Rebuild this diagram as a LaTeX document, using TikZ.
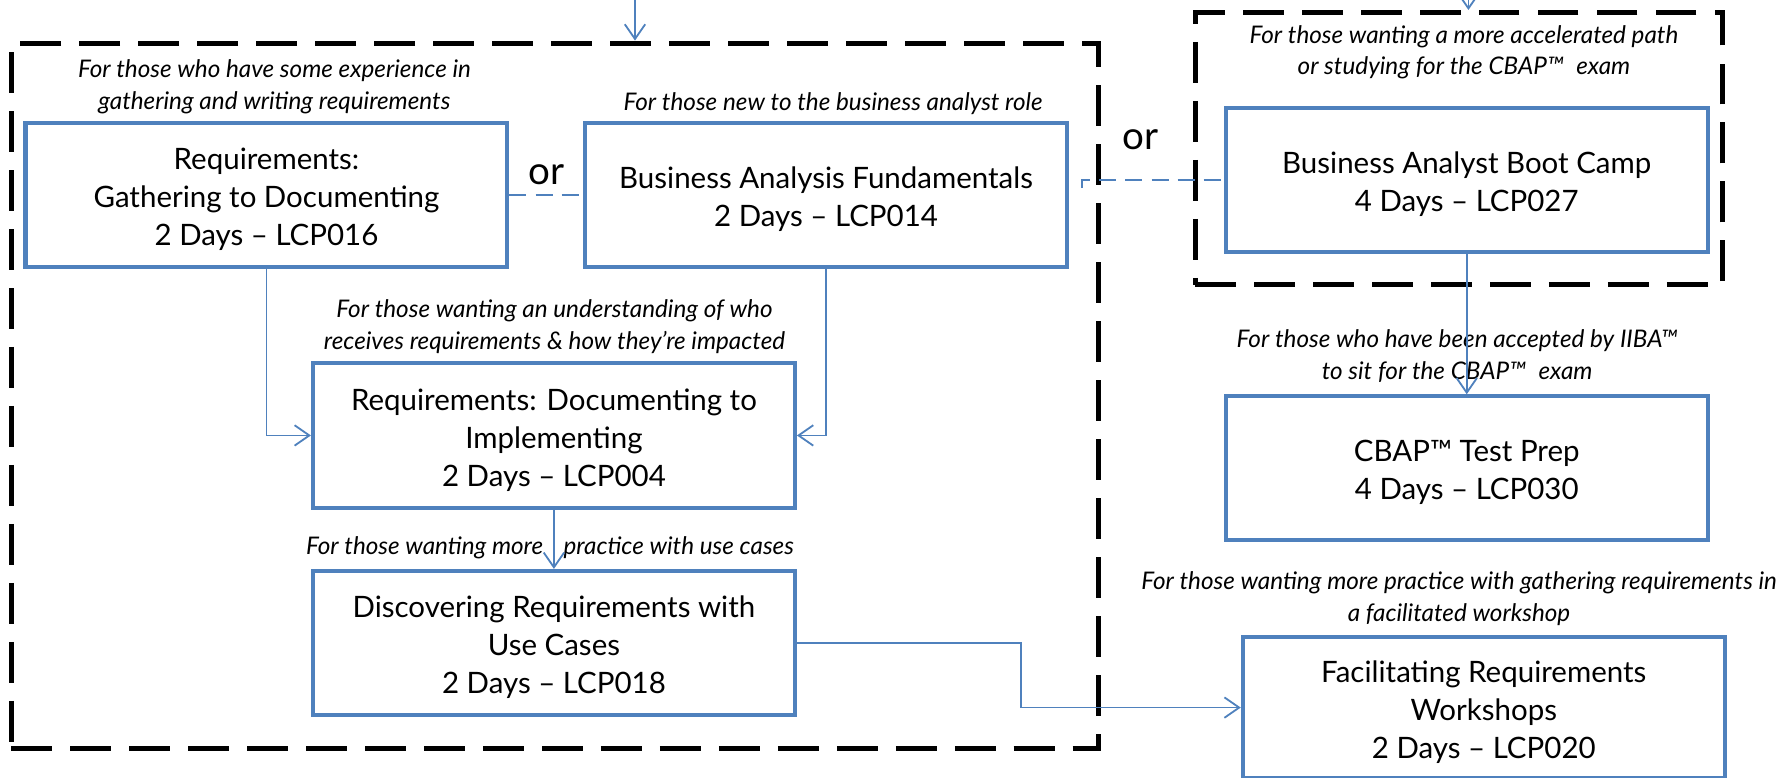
\documentclass[tikz,border=0pt]{standalone}
\usepackage{fontspec}
\setmainfont{Lato}
\usetikzlibrary{arrows.meta,calc}
\definecolor{boxblue}{RGB}{79,129,189}
\newcommand{\btext}[1]{\raisebox{-2.2pt}[\height][\depth]{\begin{tabular}{@{}c@{}}#1\end{tabular}}}
\begin{document}
\begin{tikzpicture}[x=0.5pt,y=-0.5pt,
  box/.style={draw=boxblue, line width=1.8pt, minimum width=212.5pt, minimum height=63.5pt, align=center, font=\fontsize{13}{16.75}\selectfont, inner sep=0pt},
  note/.style={align=center, font=\fontsize{10.7}{13.75}\selectfont\itshape, inner sep=0pt},
  group/.style={draw=black, line width=2.2pt, dash pattern=on 18pt off 8pt, inner sep=0pt},
  orlabel/.style={font=\fontsize{17}{20}\selectfont, inner sep=0pt},
  link/.style={draw=boxblue, line width=0.8pt, -{Straight Barb[length=6.5pt,width=9pt,line width=0.8pt]}},
  orlink/.style={draw=boxblue, line width=0.8pt, dash pattern=on 7.5pt off 4pt},
]
\useasboundingbox (0,0) rectangle (1568,686);

% dashed groups
\node[group, minimum width=479.5pt, minimum height=311pt] (grpL) at (489.5,349) {};
\node[group, minimum width=232.5pt, minimum height=120pt] (grpR) at (1286.5,131) {};

% boxes
\node[box] (b016) at (235,172) {\btext{Requirements:\\Gathering to Documenting\\2 Days – LCP016}};
\node[box] (b014) at (728.5,172) {\btext{Business Analysis Fundamentals\\2 Days – LCP014}};
\node[box] (b027) at (1293.5,158.5) {\btext{Business Analyst Boot Camp\\4 Days – LCP027}};
\node[box, minimum height=64pt] (b004) at (488.5,384) {\btext{Requirements: Documenting to\\Implementing\\2 Days – LCP004}};
\node[box] (b018) at (488.5,567) {\btext{Discovering Requirements with\\Use Cases\\2 Days – LCP018}};
\node[box] (b030) at (1293.5,413) {\btext{CBAP™ Test Prep\\4 Days – LCP030}};
\node[box, minimum height=62.5pt] (b020) at (1308.5,624) {\btext{Facilitating Requirements\\Workshops\\2 Days – LCP020}};

% notes
\node[note] (n016) at (242,76.5) {For those who have some experience in\\gathering and writing requirements};
\node[note] (n014) at (734.7,91) {For those new to the business analyst role};
\node[note] (n027) at (1291,46) {For those wanting a more accelerated path\\or studying for the CBAP™\hspace{3pt} exam};
\node[note] (n004) at (489,288) {For those wanting an understanding of who\\receives requirements \& how they’re impacted};
\node[note] (n018) at (485,483) {For those wanting more\hspace{9pt}practice with use cases};
\node[note] (n030) at (1285,314) {For those who have been accepted by IIBA™\\to sit for the CBAP™\hspace{3pt} exam};
\node[note] (n020) at (1286.7,528) {For those wanting more practice with gathering requirements in\\a facilitated workshop};

% or labels
\node[orlabel] (or1) at (482,154) {or};
\node[orlabel] (or2) at (1006,123.5) {or};

% connectors
\coordinate (in1) at (560,0);
\coordinate (in2) at (1295,0);
\coordinate (orstart) at (954,166);
\draw[link] (in1) -- (in1 |- grpL.north);
\draw[link] (in2) -- (in2 |- grpR.north);
\draw[link] (b016.south) |- (b004.west);
\draw[link] (b014.south) |- (b004.east);
\draw[link] (b004.south) -- (b018.north);
\draw[link] (b027.south) -- (b030.north);
\draw[link] (b018.east) -- ++(197.6,0) |- (b020.west);
\draw[orlink] (b016.east) -- (b014.west);
\draw[orlink] (orstart) |- (b027.west);
\end{tikzpicture}
\end{document}
